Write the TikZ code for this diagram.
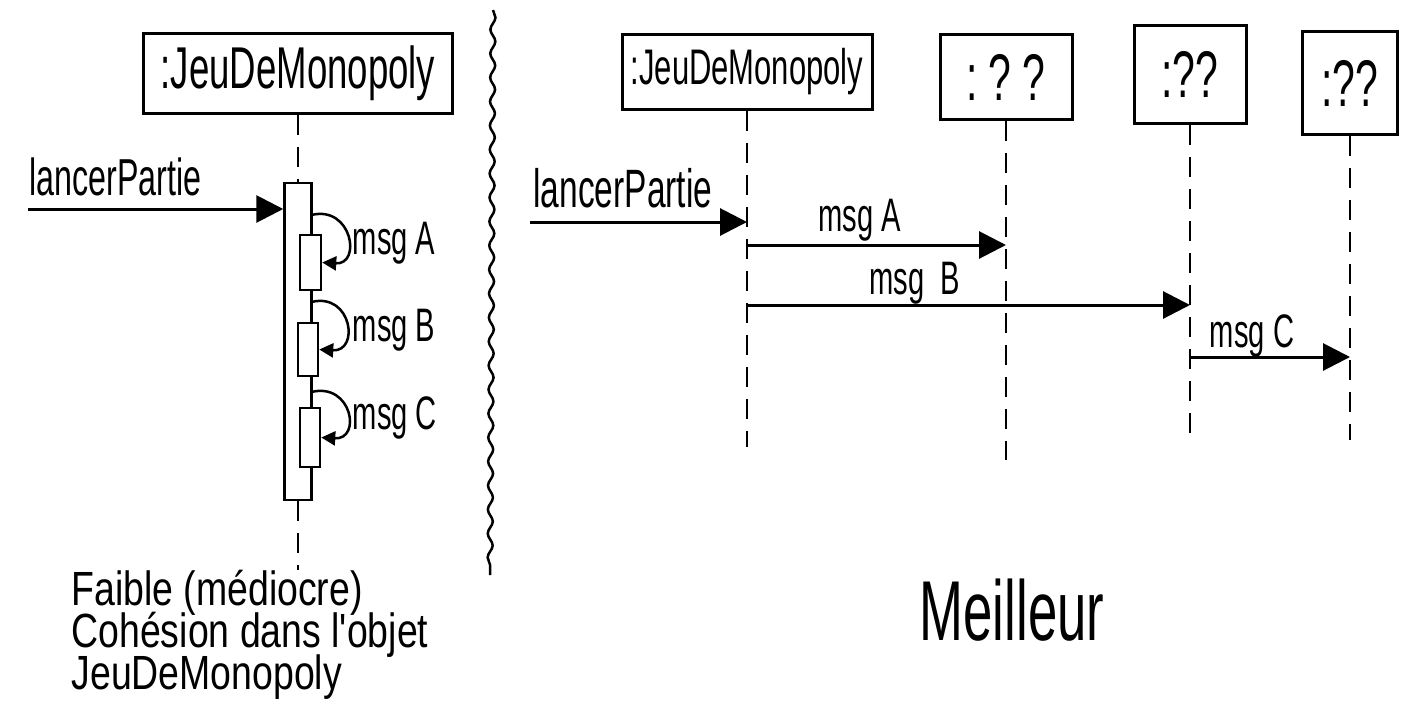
\documentclass[tikz,border=0pt]{standalone}
\usepackage{fontspec}
\setmainfont{Liberation Sans}[FakeStretch=0.62]
\newfontfamily\widehand{Liberation Sans}[FakeStretch=0.78]
\usetikzlibrary{arrows.meta,calc,decorations.pathmorphing,positioning}
\def\sz(#1){\fontsize{#1}{#1}\selectfont}

\begin{document}
\begin{tikzpicture}[x=1pt,y=-1pt,line width=3pt,
  obj/.style={draw,inner sep=0pt},
  bar/.style={draw,fill=white,inner sep=0pt,line width=2.5pt},
  life/.style={dash pattern=on 20pt off 12pt,line width=2.5pt},
  msg/.style={-{Triangle[length=27pt,width=27pt]}},
  self/.style={line width=2.5pt,-{Triangle[length=14pt,width=14pt]}}]
\useasboundingbox (0,0) rectangle (1420,713);
% left: one object does everything
\node (jeuL) [obj,minimum width=309pt,minimum height=80pt,font=\sz(59)] at (298,73) {:JeuDeMonopoly};
\node (act) [bar,minimum width=27pt,minimum height=317pt] at (298,341.5) {};
\coordinate (endL) at (298,570);
\draw[life] (jeuL) -- (act);
\draw[life] (act) -- (endL);
\node (barA) [bar,minimum width=21pt,minimum height=55pt] at (310.5,262.5) {};
\node (barB) [bar,minimum width=20pt,minimum height=53pt] at (308,349.5) {};
\node (barC) [bar,minimum width=20pt,minimum height=59pt] at (310,437.5) {};
\coordinate (sA) at (311.5,215);
\coordinate (sB) at (311.5,302);
\coordinate (sC) at (311.5,392);
\draw[self] (sA) .. controls (352,205) and (362,265) .. (barA.east);
\draw[self] (sB) .. controls (352,292) and (360,352) .. (barB.east);
\draw[self] (sC) .. controls (352,382) and (362,440) .. (barC.east);
\node (lblA) [anchor=west,font=\sz(47)] at (348,243) {msg A};
\node (lblB) [anchor=west,font=\sz(47)] at (348,330) {msg B};
\node (lblC) [anchor=west,font=\sz(47)] at (348,418) {msg C};
\node (lpL) [anchor=base west,inner sep=0pt,font=\sz(52)] at (28,195) {lancerPartie};
\coordinate (inL) at (28,209);
\draw[msg] (inL) -- (inL -| act.west);
\node (weak) [anchor=north west,align=left,inner sep=0pt,
  font={\widehand\fontsize{48}{42}\selectfont\lineskiplimit=-100pt}] at (70,569)
  {Faible (médiocre)\\Cohésion dans l'objet\\JeuDeMonopoly};
% separator
\coordinate (sepT) at (493,10);
\coordinate (sepB) at (490,575);
\draw[line width=2.5pt,decorate,decoration={snake,amplitude=2.5pt,segment length=24pt}] (sepT) -- (sepB);
% right: work is handed over
\node (jeuR) [obj,minimum width=250pt,minimum height=75pt,font=\sz(50)] at (747,72) {:JeuDeMonopoly};
\node (q1) [obj,minimum width=132pt,minimum height=85pt,font=\sz(66)] at (1006,77) {:\,?\,?};
\node (q2) [obj,minimum width=112pt,minimum height=98pt,font=\sz(66)] at (1190,74) {:??};
\node (q3) [obj,minimum width=95pt,minimum height=103pt,font=\sz(66)] at (1350,83) {:??};
\coordinate (endR) at (747,447);
\coordinate (end1) at (1006,460);
\coordinate (end2) at (1190,435);
\coordinate (end3) at (1350,440);
\draw[life] (jeuR) -- (endR);
\draw[life] (q1) -- (end1);
\draw[life] (q2) -- (end2);
\draw[life] (q3) -- (end3);
\coordinate (inR) at (530,222);
\coordinate (hA) at (0,245);
\coordinate (hB) at (0,305);
\coordinate (hC) at (0,357);
\node (lpR) [anchor=base west,inner sep=0pt,font=\sz(54)] at (532,207) {lancerPartie};
\draw[msg] (inR) -- (inR -| endR);
\draw[msg] (endR |- hA) -- (end1 |- hA);
\draw[msg] (endR |- hB) -- (end2 |- hB);
\draw[msg] (end2 |- hC) -- (end3 |- hC);
\node (lblRA) [font=\sz(47)] at (860,220) {msg A};
\node (lblRB) [font=\sz(47)] at (915,283) {msg~~B};
\node (lblRC) [font=\sz(47)] at (1252,336) {msg C};
\node (best) [font=\sz(85)] at (1012,610) {Meilleur};
\end{tikzpicture}
\end{document}
